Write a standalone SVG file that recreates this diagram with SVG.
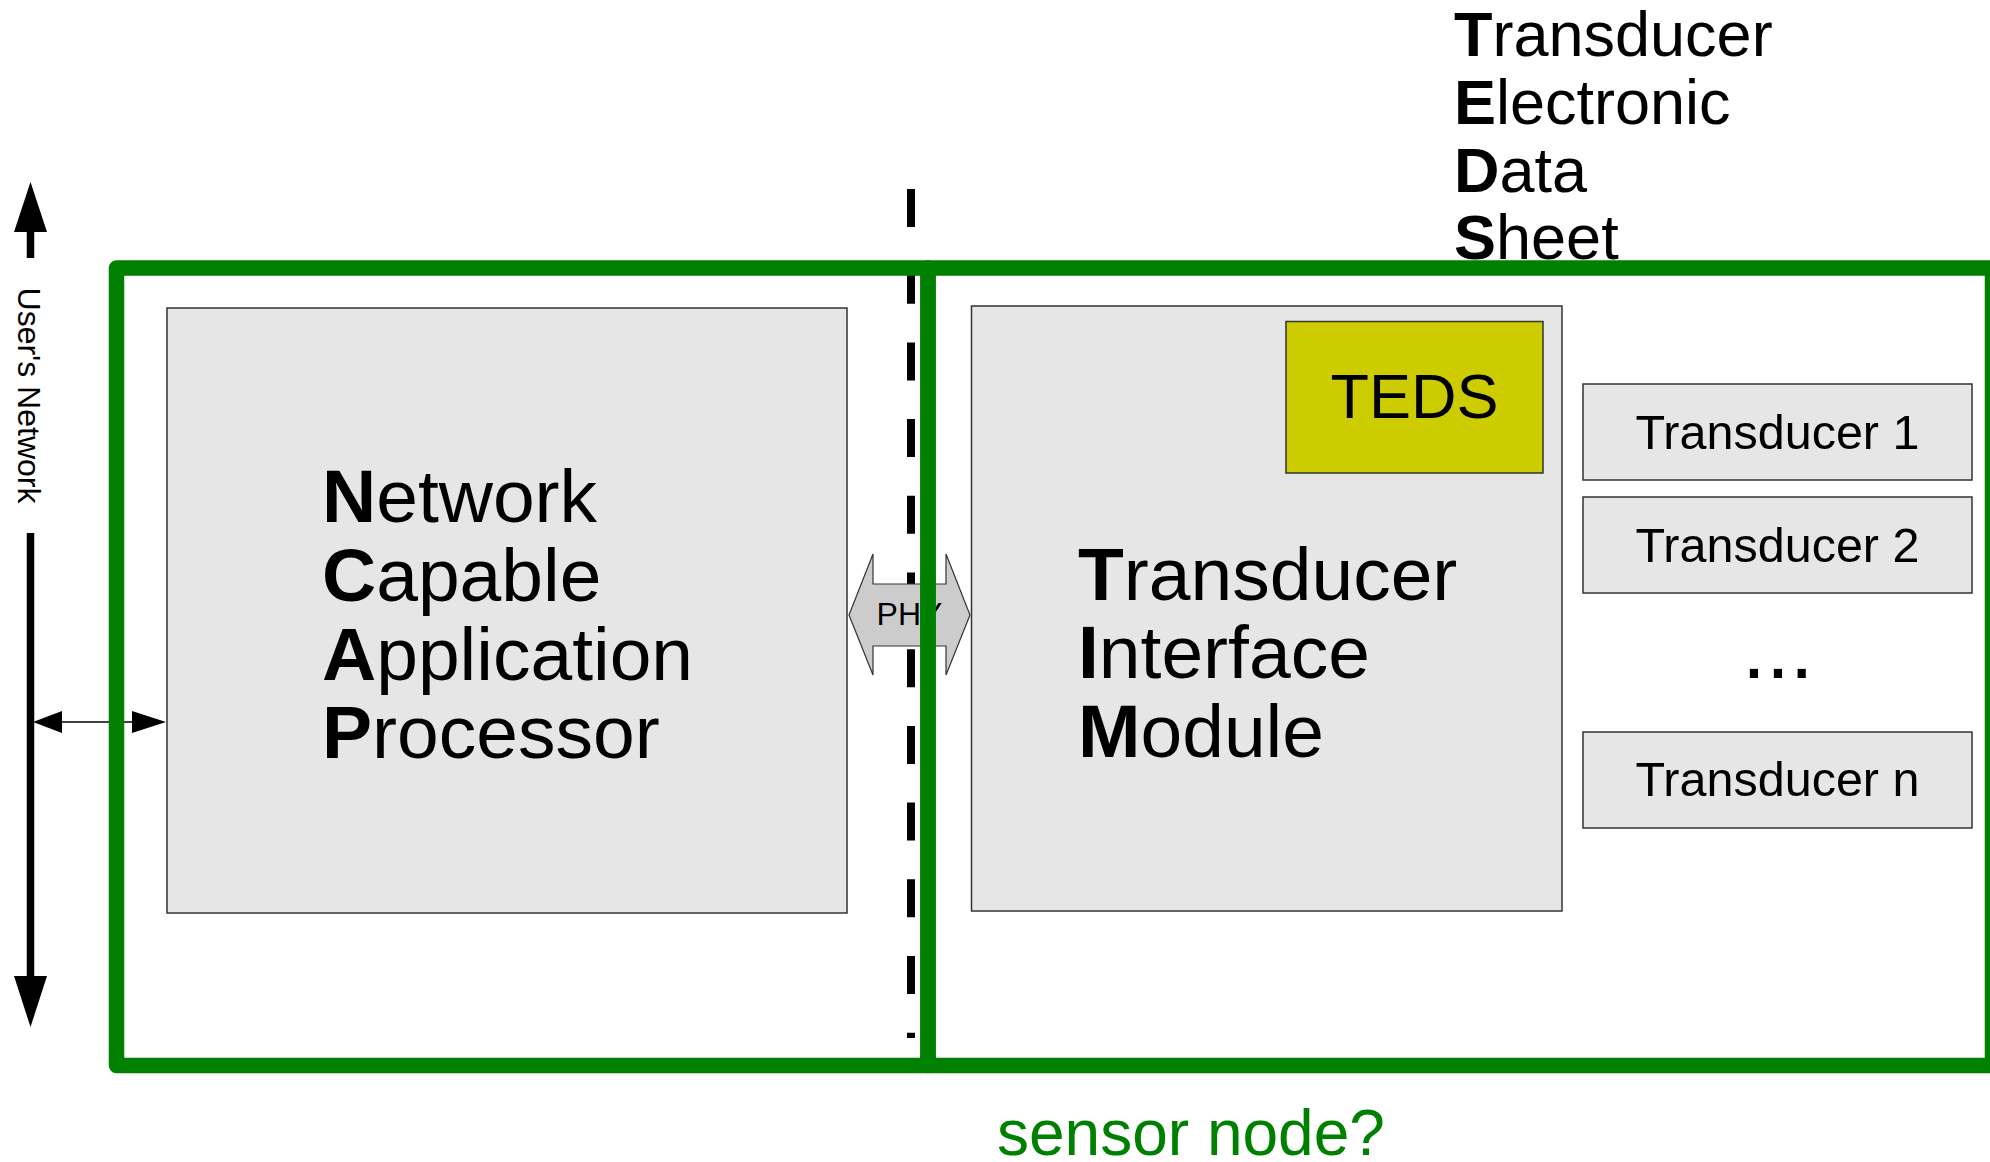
<svg xmlns="http://www.w3.org/2000/svg" width="1990" height="1162" viewBox="0 0 1990 1162">
<style>
text{font-family:"Liberation Sans",Arial,sans-serif;fill:#000}
.box{fill:#e6e6e6;stroke:#333;stroke-width:1.5}
.frame{fill:none;stroke:#008000;stroke-width:15.5;stroke-linejoin:round}
.big{font-size:75px}
.ttl{font-size:63px}
.td{font-size:48.5px;text-anchor:middle}
.b{font-weight:bold}
</style>
<rect width="1990" height="1162" fill="#fff"/>
<g id="connectors">
<line x1="911" y1="189" x2="911" y2="1038" stroke="#000" stroke-width="8" stroke-dasharray="38 38.7"/>
<g id="users-network">
<path d="M30.5 230V258M30.5 533V978" stroke="#000" stroke-width="7.5" fill="none"/>
<polygon points="30.5,182 14,232 47,232" fill="#000"/>
<polygon points="30.5,1027 14,976 47,976" fill="#000"/>
<text transform="translate(18,395.5) rotate(90)" font-size="32" text-anchor="middle">User's Network</text>
</g>
<g id="ncap-link">
<line x1="60" y1="722" x2="134" y2="722" stroke="#000" stroke-width="1.5"/>
<polygon points="33,722 62,711 62,733" fill="#000"/>
<polygon points="166,722 132,711 132,733" fill="#000"/>
</g>
<g id="phy">
<polygon points="849,615 873,554 873,584 946,584 946,554 970,615 946,675 946,646 873,646 873,675" fill="#cccccc" stroke="#333" stroke-width="1.2"/>
<text x="909.5" y="625" font-size="32" text-anchor="middle" fill="#1a1a1a">PHY</text>
</g>
</g>
<g id="ncap">
<rect class="box" x="167" y="308" width="680" height="605"/>
<text class="big" x="322" y="522"><tspan class="b">N</tspan>etwork</text>
<text class="big" x="322" y="601"><tspan class="b">C</tspan>apable</text>
<text class="big" x="322" y="680"><tspan class="b">A</tspan>pplication</text>
<text class="big" x="322" y="758"><tspan class="b">P</tspan>rocessor</text>
</g>
<g id="tim">
<rect class="box" x="971.5" y="306" width="590.5" height="605"/>
<text class="big" x="1078" y="600"><tspan class="b">T</tspan>ransducer</text>
<text class="big" x="1078" y="678"><tspan class="b">I</tspan>nterface</text>
<text class="big" x="1078" y="757"><tspan class="b">M</tspan>odule</text>
</g>
<g id="teds">
<rect x="1286" y="321.5" width="257" height="151.5" fill="#cccc00" stroke="#333" stroke-width="1.5"/>
<text x="1414.5" y="418" font-size="63" text-anchor="middle">TEDS</text>
</g>
<g id="transducer1">
<rect class="box" x="1583" y="384" width="389" height="96"/>
<text class="td" x="1777.5" y="449">Transducer 1</text>
</g>
<g id="transducer2">
<rect class="box" x="1583" y="497" width="389" height="96"/>
<text class="td" x="1777.5" y="562">Transducer 2</text>
</g>
<g id="ellipsis">
<text x="1742" y="678" font-size="86">...</text>
</g>
<g id="transducern">
<rect class="box" x="1583" y="732" width="389" height="96"/>
<text class="td" x="1777.5" y="796">Transducer n</text>
</g>
<g id="teds-title">
<text class="ttl" x="1454" y="56"><tspan class="b">T</tspan>ransducer</text>
<text class="ttl" x="1454" y="124"><tspan class="b">E</tspan>lectronic</text>
<text class="ttl" x="1454" y="192"><tspan class="b">D</tspan>ata</text>
<text class="ttl" x="1454" y="259"><tspan class="b">S</tspan>heet</text>
</g>
<g id="ncap-frame">
<rect class="frame" x="116.5" y="268" width="811.5" height="797.5"/>
</g>
<g id="sensor-node-frame">
<rect class="frame" x="928" y="268" width="1064.5" height="797.5"/>
<text x="997" y="1155" font-size="64" style="fill:#008000">sensor node?</text>
</g>
</svg>
